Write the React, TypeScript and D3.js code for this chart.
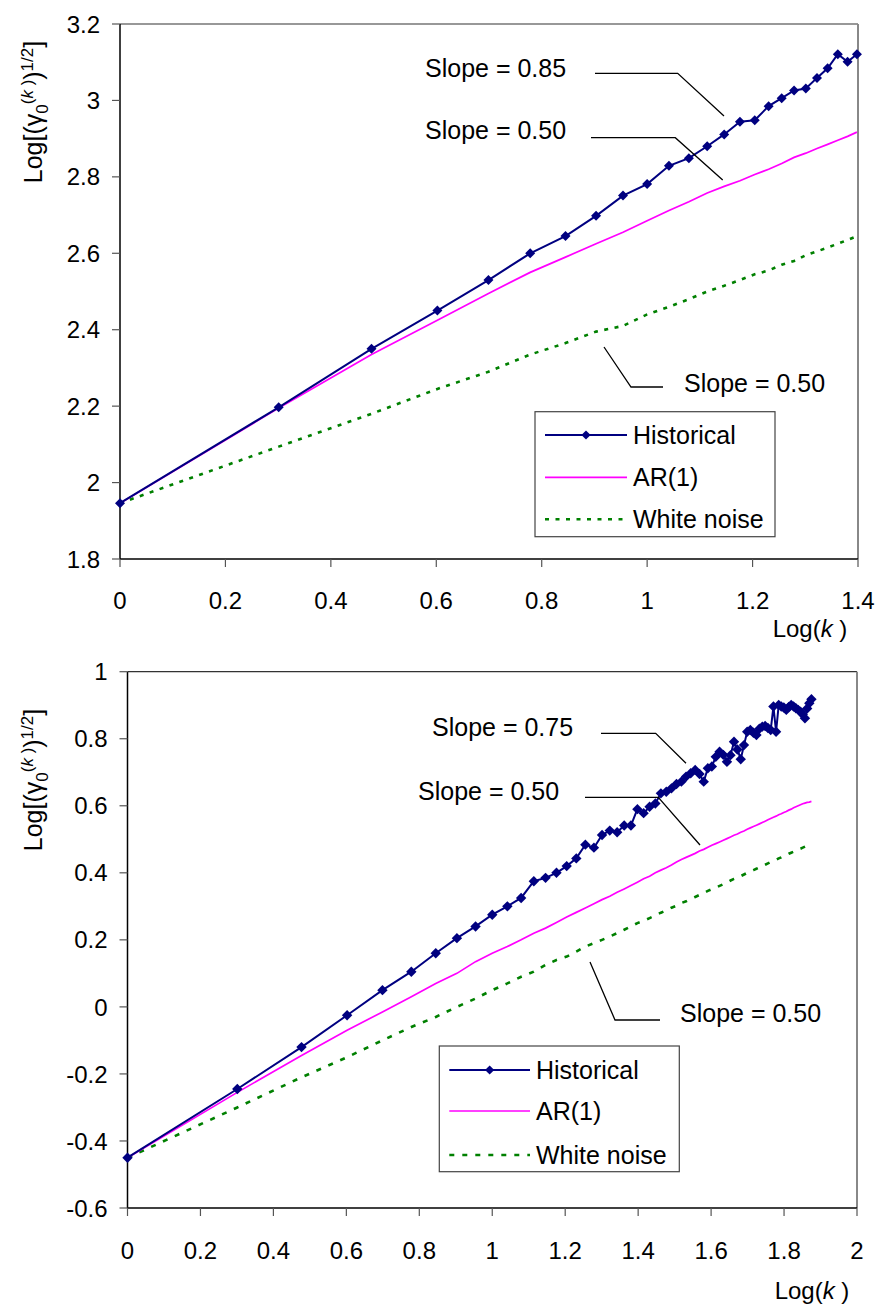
import React from "react";
import * as d3 from "d3";

// ---------- DATA ----------
// Top chart: k = 1..25, x = log10(k)
const topK = d3.range(1, 26);
const topHistorical = [1.946, 2.197, 2.35, 2.45, 2.53, 2.60, 2.645, 2.698, 2.751, 2.781, 2.829, 2.849, 2.880, 2.911, 2.944, 2.948, 2.985, 3.006, 3.026, 3.031, 3.059, 3.084, 3.121, 3.101, 3.121];
const topAR1 = [1.946, 2.195, 2.335, 2.425, 2.495, 2.55, 2.59, 2.625, 2.655, 2.685, 2.712, 2.735, 2.758, 2.775, 2.79, 2.806, 2.82, 2.835, 2.851, 2.862, 2.874, 2.885, 2.896, 2.906, 2.917];
const topWhite = [1.946, 2.094, 2.18, 2.245, 2.29, 2.335, 2.365, 2.395, 2.41, 2.44, 2.46, 2.48, 2.50, 2.515, 2.53, 2.545, 2.555, 2.57, 2.58, 2.595, 2.605, 2.615, 2.625, 2.635, 2.645];

// Bottom chart: k = 1..75, x = log10(k)
const botK = d3.range(1, 76);
const botHistorical = [
  -0.45, -0.245, -0.12, -0.025, 0.05, 0.105, 0.16, 0.205, 0.24, 0.275,
  0.30, 0.325, 0.375, 0.385, 0.40, 0.42, 0.443, 0.484, 0.475, 0.513,
  0.526, 0.521, 0.541, 0.541, 0.590, 0.578, 0.597, 0.607, 0.637, 0.642,
  0.652, 0.665, 0.672, 0.687, 0.697, 0.707, 0.695, 0.672, 0.712, 0.717,
  0.746, 0.761, 0.752, 0.731, 0.751, 0.791, 0.768, 0.739, 0.781, 0.821,
  0.826, 0.818, 0.811, 0.830, 0.836, 0.838, 0.832, 0.826, 0.896, 0.821,
  0.901, 0.896, 0.893, 0.886, 0.895, 0.901, 0.896, 0.891, 0.886, 0.881,
  0.872, 0.861, 0.890, 0.906, 0.918
];
const botAR1 = [
  -0.45, -0.255, -0.145, -0.07, -0.015, 0.03, 0.07, 0.10, 0.135, 0.16,
  0.18, 0.20, 0.22, 0.235, 0.252, 0.268, 0.282, 0.295, 0.308, 0.32,
  0.33, 0.342, 0.352, 0.362, 0.372, 0.382, 0.39, 0.40, 0.408, 0.415,
  0.423, 0.432, 0.44, 0.446, 0.452, 0.458, 0.465, 0.47, 0.476, 0.482,
  0.487, 0.492, 0.497, 0.502, 0.507, 0.512, 0.516, 0.521, 0.525, 0.53,
  0.534, 0.538, 0.542, 0.546, 0.55, 0.554, 0.558, 0.562, 0.566, 0.569,
  0.573, 0.576, 0.58, 0.583, 0.587, 0.59, 0.594, 0.597, 0.60, 0.603,
  0.606, 0.608, 0.61, 0.611, 0.613
];
const botWhite = [
  -0.45, -0.30, -0.21, -0.15, -0.10, -0.06, -0.03, 0.0, 0.025, 0.05,
  0.07, 0.09, 0.105, 0.125, 0.14, 0.15, 0.165, 0.18, 0.19, 0.20,
  0.21, 0.22, 0.23, 0.24, 0.25, 0.257, 0.265, 0.273, 0.281, 0.288,
  0.296, 0.302, 0.31, 0.315, 0.322, 0.328, 0.334, 0.34, 0.346, 0.351,
  0.356, 0.361, 0.366, 0.371, 0.377, 0.382, 0.386, 0.39, 0.395, 0.40,
  0.404, 0.408, 0.412, 0.416, 0.42, 0.424, 0.428, 0.432, 0.436, 0.439,
  0.443, 0.446, 0.45, 0.453, 0.457, 0.46, 0.463, 0.467, 0.47, 0.472,
  0.475, 0.478, 0.481, 0.483, 0.486
];

const topXTicks = [0, 0.2, 0.4, 0.6, 0.8, 1, 1.2, 1.4];
const topXLabels = ["0", "0.2", "0.4", "0.6", "0.8", "1", "1.2", "1.4"];
const topYTicks = [1.8, 2, 2.2, 2.4, 2.6, 2.8, 3, 3.2];
const topYLabels = ["1.8", "2", "2.2", "2.4", "2.6", "2.8", "3", "3.2"];
const botXTicks = [0, 0.2, 0.4, 0.6, 0.8, 1, 1.2, 1.4, 1.6, 1.8, 2];
const botXLabels = ["0", "0.2", "0.4", "0.6", "0.8", "1", "1.2", "1.4", "1.6", "1.8", "2"];
const botYTicks = [-0.6, -0.4, -0.2, 0, 0.2, 0.4, 0.6, 0.8, 1];
const botYLabels = ["-0.6", "-0.4", "-0.2", "0", "0.2", "0.4", "0.6", "0.8", "1"];

const seriesNames = ["Historical", "AR(1)", "White noise"];

const FONT = "'Liberation Sans', Arial, sans-serif";
const NAVY = "#000080";
const PINK = "#FF00FF";
const GREEN = "#008000";

function diamond(r: number) {
  return `M0,${-r}L${r},0L0,${r}L${-r},0Z`;
}

type PanelProps = {
  x: d3.ScaleLinear<number, number>;
  y: d3.ScaleLinear<number, number>;
  ks: number[];
  hist: number[];
  ar: number[];
  wn: number[];
  xTicks: number[];
  xLabels: string[];
  yTicks: number[];
  yLabels: string[];
  xLabelY: number;
  axisTitleX: number;
  axisTitleY: number;
  yTitleX: number;
  yTitleY: number;
  legend: { x0: number; y0: number; x1: number; y1: number; lx0: number; lx1: number; rows: number[]; tx: number };
  dash: string;
  markerR: number;
  annotations: { text: string; tx: number; ty: number; pts: [number, number][] }[];
};

function Panel(p: PanelProps) {
  const [x0, x1] = p.x.range();
  const [yb, yt] = p.y.range();
  const pts = (vals: number[]) => p.ks.map((k, i) => [p.x(Math.log10(k)), p.y(vals[i])] as [number, number]);
  const line = d3.line<[number, number]>();
  const histPts = pts(p.hist);
  const fs = 24;
  return (
    <g fontFamily={FONT}>
      {/* plot area border (top, right) */}
      <line x1={x0} y1={yt} x2={x1} y2={yt} stroke="#333" strokeWidth={1.2} />
      <line x1={x1} y1={yt} x2={x1} y2={yb} stroke="#888" strokeWidth={2} />
      {/* axes */}
      <line x1={x0} y1={yt} x2={x0} y2={yb} stroke="#000" strokeWidth={1.5} />
      <line x1={x0} y1={yb} x2={x1} y2={yb} stroke="#000" strokeWidth={1.5} />
      {p.yTicks.map((t, i) => (
        <g key={"yt" + i}>
          <line x1={x0 - 8} x2={x0} y1={p.y(t)} y2={p.y(t)} stroke="#555" strokeWidth={1.2} />
          <text x={x0 - 20} y={p.y(t)} dy="0.36em" textAnchor="end" fontSize={fs}>{p.yLabels[i]}</text>
        </g>
      ))}
      {p.xTicks.map((t, i) => (
        <g key={"xt" + i}>
          <line x1={p.x(t)} x2={p.x(t)} y1={yb} y2={yb + 8} stroke="#555" strokeWidth={1.2} />
          <text x={p.x(t)} y={p.xLabelY} dy="0.36em" textAnchor="middle" fontSize={fs}>{p.xLabels[i]}</text>
        </g>
      ))}
      <text x={p.axisTitleX} y={p.axisTitleY} dy="0.36em" textAnchor="middle" fontSize={fs}>
        Log(<tspan fontStyle="italic">k</tspan> )
      </text>
      <text transform={`translate(${p.yTitleX},${p.yTitleY}) rotate(-90)`} textAnchor="middle" fontSize={25}>
        <tspan>Log[(γ</tspan>
        <tspan fontSize={17} dy={6}>0</tspan>
        <tspan fontSize={17} dy={-15}>(</tspan>
        <tspan fontSize={17} fontStyle="italic">k</tspan>
        <tspan fontSize={17}> )</tspan>
        <tspan dy={9}>)</tspan>
        <tspan fontSize={17} dy={-9}>1/2</tspan>
        <tspan dy={9}>]</tspan>
      </text>
      {/* series */}
      <path d={line(pts(p.wn)) || ""} fill="none" stroke={GREEN} strokeWidth={2.6} strokeDasharray={p.dash} />
      <path d={line(pts(p.ar)) || ""} fill="none" stroke={PINK} strokeWidth={1.7} />
      <path d={line(histPts) || ""} fill="none" stroke={NAVY} strokeWidth={2} />
      {histPts.map(([cx, cy], i) => (
        <path key={"m" + i} d={diamond(p.markerR)} transform={`translate(${cx},${cy})`} fill={NAVY} />
      ))}
      {/* annotations */}
      {p.annotations.map((a, i) => (
        <g key={"a" + i}>
          <text x={a.tx} y={a.ty} dy="0.36em" fontSize={25}>{a.text}</text>
          <path d={line(a.pts) || ""} fill="none" stroke="#000" strokeWidth={1.3} />
        </g>
      ))}
      {/* legend */}
      <rect x={p.legend.x0} y={p.legend.y0} width={p.legend.x1 - p.legend.x0} height={p.legend.y1 - p.legend.y0} fill="#fff" stroke="#444" strokeWidth={1.2} />
      {seriesNames.map((n, i) => {
        const ly = p.legend.rows[i];
        const color = i === 0 ? NAVY : i === 1 ? PINK : GREEN;
        return (
          <g key={"l" + i}>
            <line x1={p.legend.lx0} x2={p.legend.lx1} y1={ly} y2={ly} stroke={color} strokeWidth={i === 2 ? 2.6 : i === 0 ? 2 : 1.7} strokeDasharray={i === 2 ? p.dash : undefined} />
            {i === 0 && <path d={diamond(4.6)} transform={`translate(${(p.legend.lx0 + p.legend.lx1) / 2},${ly})`} fill={NAVY} />}
            <text x={p.legend.tx} y={ly} dy="0.36em" fontSize={25}>{n}</text>
          </g>
        );
      })}
    </g>
  );
}

export default function App() {
  const xTop = d3.scaleLinear().domain([0, 1.4]).range([120, 858]);
  const yTop = d3.scaleLinear().domain([1.8, 3.2]).range([559, 24]);
  const xBot = d3.scaleLinear().domain([0, 2]).range([127.5, 857]);
  const yBot = d3.scaleLinear().domain([-0.6, 1]).range([1208, 671.7]);
  return (
    <svg width={878} height={1305} style={{ position: "absolute", left: 0, top: 0, background: "#fff" }}>
      <rect width={878} height={1305} fill="#fff" />
      <Panel
        x={xTop} y={yTop} ks={topK} hist={topHistorical} ar={topAR1} wn={topWhite}
        xTicks={topXTicks} xLabels={topXLabels} yTicks={topYTicks} yLabels={topYLabels}
        xLabelY={600} axisTitleX={810} axisTitleY={628} yTitleX={42} yTitleY={112}
        dash="4 6.5" markerR={5}
        legend={{ x0: 535, y0: 411.7, x1: 775, y1: 536.7, lx0: 545, lx1: 627, rows: [435, 477.3, 519.3], tx: 633 }}
        annotations={[
          { text: "Slope = 0.85", tx: 425, ty: 68, pts: [[595, 73.3], [677.7, 73.3], [724, 116]] },
          { text: "Slope = 0.50", tx: 425, ty: 130, pts: [[591, 137.7], [675.3, 137.7], [722.7, 180]] },
          { text: "Slope = 0.50", tx: 684, ty: 383, pts: [[604, 347], [631, 387], [663, 387]] },
        ]}
      />
      <Panel
        x={xBot} y={yBot} ks={botK} hist={botHistorical} ar={botAR1} wn={botWhite}
        xTicks={botXTicks} xLabels={botXLabels} yTicks={botYTicks} yLabels={botYLabels}
        xLabelY={1250} axisTitleX={812} axisTitleY={1290} yTitleX={42} yTitleY={780}
        dash="5 8" markerR={5.2}
        legend={{ x0: 439.3, y0: 1046, x1: 679.3, y1: 1171.7, lx0: 449.3, lx1: 530, rows: [1070, 1111, 1155], tx: 536 }}
        annotations={[
          { text: "Slope = 0.75", tx: 432, ty: 727, pts: [[601, 733.3], [655.7, 733.3], [686, 763.3]] },
          { text: "Slope = 0.50", tx: 418, ty: 790.7, pts: [[585, 797.3], [658.3, 797.3], [700, 845]] },
          { text: "Slope = 0.50", tx: 680, ty: 1013, pts: [[590, 962], [615, 1020], [660, 1020]] },
        ]}
      />
    </svg>
  );
}
